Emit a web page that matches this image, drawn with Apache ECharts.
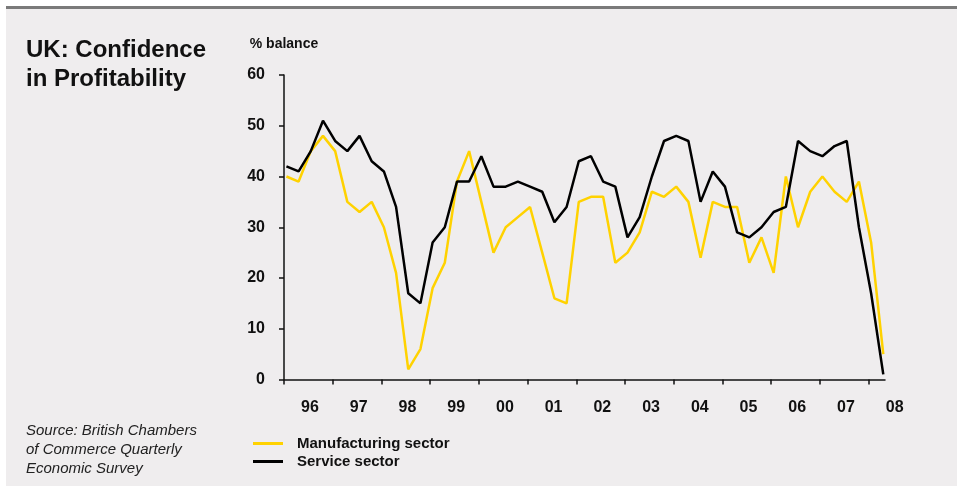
<!DOCTYPE html>
<html>
<head>
    <meta charset="utf-8" />
    <title>UK: Confidence in Profitability</title>
    <script src="https://cdn.jsdelivr.net/npm/echarts@6.0.0/dist/echarts.min.js"></script>
    <style>
        html, body { margin: 0; padding: 0; background: #ffffff; }
        #panel {
            position: absolute; left: 6px; top: 6px; width: 951px; height: 480px;
            background: #efedee; border-top: 3px solid #7a7a7a; box-sizing: border-box;
        }
        #chart { position: absolute; left: 0; top: 0; width: 957px; height: 488px; }
    </style>
</head>
<body>
<div id="panel"></div>
<div id="chart"></div>
<script type="text/javascript">
    // quarterly, 1996 Q1 .. 2008 Q2
    var yearLabels = ['96', '97', '98', '99', '00', '01', '02', '03', '04', '05', '06', '07', '08'];
    var manufacturing = [40, 39, 45, 48, 45, 35, 33, 35, 30, 21, 2, 6, 18, 23,
        39, 45, 35, 25, 30, 32, 34, 25, 16, 15, 35, 36, 36, 23,
        25, 29, 37, 36, 38, 35, 24, 35, 34, 34, 23, 28, 21, 40,
        30, 37, 40, 37, 35, 39, 27, 5];
    var service = [42, 41, 45, 51, 47, 45, 48, 43, 41, 34, 17, 15, 27, 30,
        39, 39, 44, 38, 38, 39, 38, 37, 31, 34, 43, 44, 39, 38,
        28, 32, 40, 47, 48, 47, 35, 41, 38, 29, 28, 30, 33, 34,
        47, 45, 44, 46, 47, 30, 17, 1];

    var FONT = '"Liberation Sans", Arial, sans-serif';

    function toPoints(arr) {
        // small offset so the first point sits just right of the 1996 tick
        return arr.map(function (v, i) { return [i + 0.2, v]; });
    }

    var tickValues = yearLabels.map(function (y, i) { return i * 4; });

    var myChart = echarts.init(document.getElementById('chart'));

    var option = {
        backgroundColor: 'transparent',
        animation: false,
        title: [
            {
                text: 'UK: Confidence\nin Profitability',
                left: 21, top: 31,
                textStyle: { fontFamily: FONT, fontSize: 24, fontWeight: 'bold', color: '#111', lineHeight: 29 }
            },
            {
                text: 'Source: British Chambers\nof Commerce Quarterly\nEconomic Survey',
                left: 21, top: 416,
                textStyle: { fontFamily: FONT, fontSize: 15, fontStyle: 'italic', fontWeight: 'normal', color: '#222', lineHeight: 19 }
            }
        ],
        legend: {
            orient: 'vertical',
            left: 248, top: 431,
            itemWidth: 30, itemHeight: 3, itemGap: 3,
            icon: 'rect',
            textStyle: { fontFamily: FONT, fontSize: 15, fontWeight: 'bold', color: '#111', padding: [0, 0, 0, 9] },
            data: ['Manufacturing sector', 'Service sector']
        },
        grid: { left: 284, right: 72, top: 75, bottom: 108.5, containLabel: false },
        xAxis: {
            type: 'value',
            min: 0, max: 49.34,
            splitLine: { show: false },
            axisLine: { onZero: false, lineStyle: { color: '#111', width: 1.5 } },
            axisTick: { show: true, length: 5, customValues: tickValues, lineStyle: { color: '#111', width: 1.5 } },
            axisLabel: {
                customValues: tickValues,
                margin: 20,
                formatter: function (v) { return '{a|' + yearLabels[Math.round(v / 4)] + '}'; },
                rich: {
                    a: { fontFamily: FONT, fontSize: 16, fontWeight: 'bold', color: '#111', padding: [0, 0, 0, 52] }
                }
            }
        },
        yAxis: {
            type: 'value',
            min: 0, max: 60, interval: 10,
            name: '% balance',
            nameLocation: 'end',
            nameGap: 24,
            nameTextStyle: { fontFamily: FONT, fontSize: 14, fontWeight: 'bold', color: '#111' },
            splitLine: { show: false },
            axisLine: { show: true, lineStyle: { color: '#111', width: 1.5 } },
            axisTick: { show: true, length: 5, lineStyle: { color: '#111', width: 1.5 } },
            axisLabel: { margin: 19, fontFamily: FONT, fontSize: 16, fontWeight: 'bold', color: '#111' }
        },
        series: [
            {
                name: 'Manufacturing sector',
                type: 'line',
                data: toPoints(manufacturing),
                showSymbol: false,
                color: '#ffd200',
                lineStyle: { color: '#ffd200', width: 2.5 }
            },
            {
                name: 'Service sector',
                type: 'line',
                data: toPoints(service),
                showSymbol: false,
                color: '#000000',
                lineStyle: { color: '#000000', width: 2.5 }
            }
        ]
    };
    myChart.setOption(option);
</script>
</body>
</html>
